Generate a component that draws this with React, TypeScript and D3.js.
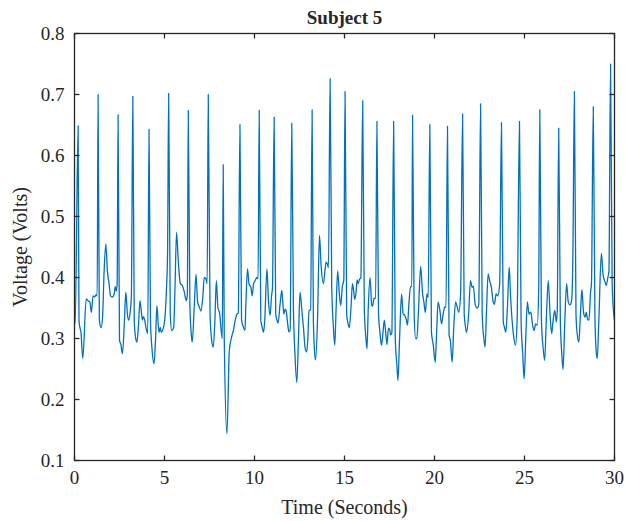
import React from "react";
import * as d3 from "d3";

// ECG-like trace
const time = [
  0, 0.04, 0.2, 0.25, 0.3, 0.36, 0.46, 0.65, 0.75, 0.85, 0.94, 1.03, 1.12, 1.2, 1.26, 1.31,
  1.38, 1.48, 1.56, 1.64, 1.74, 1.83, 1.92, 2.0, 2.1, 2.2, 2.26, 2.32, 2.37, 2.42,
  2.5, 2.58, 2.66, 2.77, 2.85, 2.94, 3.01, 3.1, 3.16, 3.24,
  3.32, 3.4, 3.47, 3.55, 3.64, 3.71, 3.77, 3.83, 3.9, 3.97, 4.07, 4.14,
  4.22, 4.3, 4.42, 4.5, 4.58, 4.66, 4.7, 4.77, 4.82, 4.91, 5.01, 5.1, 5.17, 5.23,
  5.32, 5.4, 5.51, 5.58, 5.67, 5.76, 5.88, 5.99, 6.1, 6.21, 6.27, 6.32,
  6.41, 6.49, 6.54, 6.65, 6.75, 6.84, 6.93, 7.02, 7.12, 7.21, 7.3, 7.37, 7.43,
  7.53, 7.62, 7.71, 7.8, 7.88, 7.97, 8.06, 8.15, 8.21, 8.26,
  8.32, 8.47, 8.6, 8.71, 8.84, 8.93, 9.02, 9.1, 9.19,
  9.28, 9.37, 9.47, 9.52, 9.61, 9.7, 9.8, 9.87, 9.95, 10.04, 10.13, 10.2, 10.26,
  10.35, 10.43, 10.5, 10.57, 10.69, 10.78, 10.87, 10.94, 11.0, 11.09,
  11.18, 11.25, 11.31, 11.42, 11.52, 11.57, 11.63, 11.7, 11.76, 11.85, 11.91, 11.98, 12.07,
  12.16, 12.25, 12.35, 12.44, 12.53, 12.62, 12.72, 12.81, 12.9, 12.96, 13.03, 13.12, 13.2,
  13.27, 13.35, 13.39, 13.5, 13.61, 13.7, 13.83, 13.92, 13.98, 14.05, 14.11, 14.2,
  14.29, 14.38, 14.46, 14.53, 14.62, 14.71, 14.79, 14.88, 14.96, 15.03,
  15.12, 15.2, 15.27, 15.36, 15.44, 15.5, 15.57, 15.65, 15.7, 15.76, 15.82, 15.91, 16.01,
  16.1, 16.19, 16.25, 16.32, 16.42, 16.51, 16.56, 16.64, 16.73, 16.8,
  16.89, 16.97, 17.05, 17.13, 17.21, 17.29, 17.36, 17.44, 17.51, 17.56, 17.63, 17.73,
  17.82, 17.91, 17.97, 18.06, 18.17, 18.26, 18.35, 18.44, 18.5, 18.58, 18.67, 18.74, 18.78,
  18.87, 18.95, 19.02, 19.11, 19.23, 19.34, 19.41, 19.49, 19.58, 19.65, 19.74,
  19.83, 19.93, 20.04, 20.12, 20.2, 20.3, 20.39, 20.48, 20.57, 20.64, 20.72,
  20.81, 20.88, 20.98, 21.07, 21.17, 21.26, 21.35, 21.45, 21.56,
  21.65, 21.73, 21.78, 21.89, 22.0, 22.09, 22.16, 22.26, 22.37, 22.46, 22.56,
  22.65, 22.74, 22.81, 22.89, 22.98, 23.07, 23.16, 23.26, 23.33, 23.42, 23.51, 23.62, 23.72,
  23.82, 23.89, 23.96, 24.05, 24.15, 24.22, 24.31, 24.4, 24.5, 24.59, 24.72,
  24.81, 24.9, 24.98, 25.07, 25.16, 25.25, 25.35, 25.44, 25.53, 25.62, 25.71, 25.79, 25.85,
  25.94, 26.03, 26.12, 26.21, 26.32, 26.42, 26.51, 26.58, 26.68, 26.77, 26.82, 26.9,
  26.99, 27.07, 27.14, 27.23, 27.34, 27.43, 27.53, 27.62, 27.69, 27.77,
  27.86, 27.93, 28.02, 28.1, 28.19, 28.28, 28.37, 28.43, 28.5, 28.58, 28.67, 28.72, 28.82,
  28.91, 28.97, 29.04, 29.13, 29.27, 29.36, 29.45, 29.54, 29.63, 29.69, 29.78,
  29.87, 29.96, 30,
];

const voltage = [
  0.33, 0.325, 0.649, 0.33, 0.318, 0.31, 0.267, 0.365, 0.362, 0.36, 0.343, 0.37, 0.368, 0.372, 0.37, 0.7,
  0.33, 0.318, 0.335, 0.406, 0.455, 0.41, 0.39, 0.37, 0.368, 0.372, 0.385, 0.378, 0.39, 0.667,
  0.297, 0.29, 0.275, 0.325, 0.376, 0.34, 0.33, 0.345, 0.37, 0.697,
  0.33, 0.3, 0.294, 0.32, 0.362, 0.345, 0.33, 0.336, 0.33, 0.318, 0.308, 0.643,
  0.33, 0.285, 0.259, 0.297, 0.354, 0.32, 0.31, 0.318, 0.31, 0.315, 0.33, 0.375, 0.44, 0.702,
  0.34, 0.313, 0.318, 0.38, 0.474, 0.43, 0.39, 0.387, 0.376, 0.362, 0.372, 0.674,
  0.355, 0.306, 0.294, 0.35, 0.405, 0.36, 0.352, 0.345, 0.365, 0.4, 0.398, 0.39, 0.7,
  0.34, 0.297, 0.286, 0.33, 0.395, 0.35, 0.342, 0.313, 0.3, 0.585,
  0.3, 0.144, 0.28, 0.3, 0.315, 0.33, 0.34, 0.342, 0.651,
  0.33, 0.32, 0.313, 0.355, 0.414, 0.389, 0.384, 0.37, 0.39, 0.395, 0.4, 0.398, 0.674,
  0.33, 0.318, 0.31, 0.33, 0.414, 0.36, 0.338, 0.368, 0.384, 0.663,
  0.34, 0.33, 0.325, 0.356, 0.379, 0.36, 0.34, 0.348, 0.345, 0.322, 0.311, 0.313, 0.653,
  0.355, 0.273, 0.228, 0.297, 0.376, 0.35, 0.318, 0.285, 0.278, 0.297, 0.346, 0.347, 0.675,
  0.33, 0.273, 0.265, 0.33, 0.469, 0.42, 0.39, 0.413, 0.425, 0.422, 0.416, 0.726,
  0.386, 0.32, 0.289, 0.346, 0.411, 0.375, 0.354, 0.385, 0.396, 0.705,
  0.34, 0.324, 0.318, 0.35, 0.39, 0.38, 0.364, 0.378, 0.396, 0.39, 0.396, 0.4, 0.69,
  0.35, 0.3, 0.283, 0.35, 0.4, 0.355, 0.353, 0.366, 0.366, 0.656,
  0.34, 0.31, 0.289, 0.307, 0.33, 0.31, 0.29, 0.317, 0.315, 0.306, 0.309, 0.656,
  0.3, 0.257, 0.231, 0.3, 0.373, 0.34, 0.338, 0.33, 0.322, 0.358, 0.385, 0.385, 0.666,
  0.34, 0.3, 0.3, 0.345, 0.418, 0.373, 0.36, 0.343, 0.373, 0.367, 0.651,
  0.31, 0.29, 0.261, 0.312, 0.36, 0.346, 0.324, 0.34, 0.352, 0.351, 0.648,
  0.305, 0.297, 0.261, 0.318, 0.36, 0.352, 0.343, 0.373, 0.668,
  0.34, 0.318, 0.31, 0.337, 0.395, 0.384, 0.386, 0.356, 0.35, 0.356, 0.685,
  0.34, 0.3, 0.286, 0.346, 0.406, 0.394, 0.384, 0.36, 0.356, 0.373, 0.37, 0.389, 0.654,
  0.327, 0.318, 0.31, 0.35, 0.417, 0.373, 0.33, 0.303, 0.289, 0.33, 0.656,
  0.33, 0.275, 0.234, 0.3, 0.36, 0.34, 0.343, 0.324, 0.313, 0.324, 0.322, 0.385, 0.675,
  0.33, 0.286, 0.264, 0.33, 0.395, 0.34, 0.308, 0.327, 0.346, 0.327, 0.346, 0.645,
  0.33, 0.275, 0.249, 0.32, 0.39, 0.36, 0.355, 0.363, 0.44, 0.705,
  0.34, 0.307, 0.294, 0.335, 0.38, 0.343, 0.335, 0.343, 0.332, 0.33, 0.376, 0.39, 0.68,
  0.34, 0.285, 0.267, 0.33, 0.44, 0.406, 0.395, 0.387, 0.4, 0.41, 0.75,
  0.39, 0.34, 0.33,
];

const xTicks = [0, 5, 10, 15, 20, 25, 30];
const yTicks = [0.1, 0.2, 0.3, 0.4, 0.5, 0.6, 0.7, 0.8];

const width = 626;
const height = 521;
const left = 74.5;
const right = 614.5;
const top = 33.5;
const bottom = 460.5;
const font = "'Liberation Serif', 'DejaVu Serif', serif";
const ink = "#262626";

export default function App() {
  const x = d3.scaleLinear().domain([0, 30]).range([left, right]);
  const y = d3.scaleLinear().domain([0.1, 0.8]).range([bottom, top]);

  const line = d3
    .line<number>()
    .x((d, i) => x(time[i]))
    .y(d => y(d))
    .curve(d3.curveMonotoneX);

  return (
    <svg
      width={width}
      height={height}
      style={{ position: "absolute", left: 0, top: 0, background: "#fff" }}
      fontFamily={font}
    >
      <path d={line(voltage) || ""} fill="none" stroke="#0072BD" strokeWidth={1.3} strokeLinejoin="round" />

      <rect x={left} y={top} width={right - left} height={bottom - top} fill="none" stroke={ink} strokeWidth={1.3} />

      {xTicks.map(t => (
        <g key={"x" + t}>
          <line x1={x(t)} x2={x(t)} y1={bottom} y2={bottom - 5} stroke={ink} strokeWidth={1.3} />
          <line x1={x(t)} x2={x(t)} y1={top} y2={top + 5} stroke={ink} strokeWidth={1.3} />
          <text x={x(t)} y={483.5} textAnchor="middle" fontSize={19} fill={ink}>
            {t}
          </text>
        </g>
      ))}

      {yTicks.map(t => (
        <g key={"y" + t}>
          <line x1={left} x2={left + 5} y1={y(t)} y2={y(t)} stroke={ink} strokeWidth={1.3} />
          <line x1={right} x2={right - 5} y1={y(t)} y2={y(t)} stroke={ink} strokeWidth={1.3} />
          <text x={64.5} y={y(t)} dy="0.35em" textAnchor="end" fontSize={19} fill={ink}>
            {t.toFixed(1)}
          </text>
        </g>
      ))}

      <text x={(left + right) / 2} y={24} textAnchor="middle" fontSize={19} fontWeight="bold" fill={ink}>
        Subject 5
      </text>
      <text x={(left + right) / 2} y={514} textAnchor="middle" fontSize={20} fill={ink}>
        Time (Seconds)
      </text>
      <text
        transform={`translate(27,${(top + bottom) / 2}) rotate(-90)`}
        textAnchor="middle"
        fontSize={20}
        fill={ink}
      >
        Voltage (Volts)
      </text>
    </svg>
  );
}
